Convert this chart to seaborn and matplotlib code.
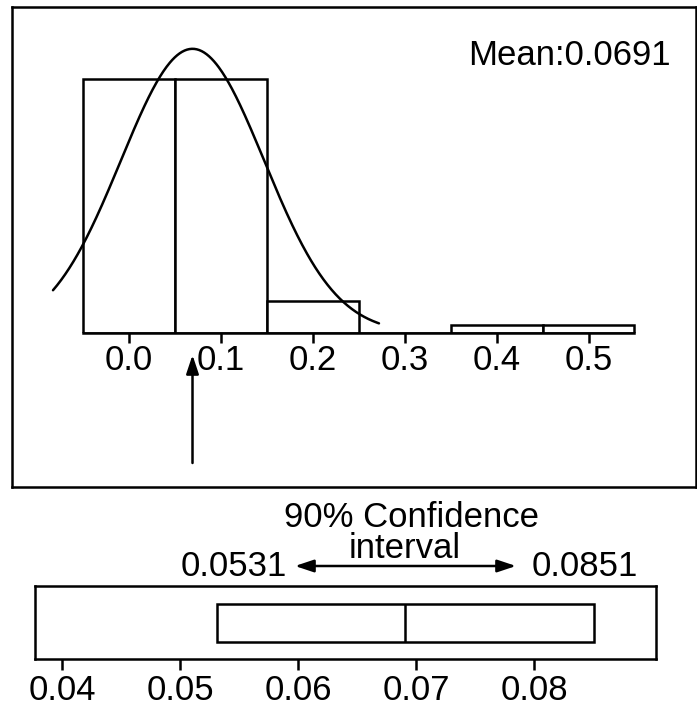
import numpy as np
import pandas as pd
import matplotlib
matplotlib.use("Agg")
import matplotlib.pyplot as plt
from matplotlib.patches import FancyArrowPatch
import seaborn as sns

# Histogram of the estimates
bin_edges = [-0.05, 0.05, 0.15, 0.25, 0.35, 0.45, 0.55]
bin_counts = [32, 32, 4, 0, 1, 1]
hist_ticks = [0.0, 0.1, 0.2, 0.3, 0.4, 0.5]
hist_tick_labels = ["0.0", "0.1", "0.2", "0.3", "0.4", "0.5"]

# Fitted normal curve
fit_mean = 0.0691
fit_sd = 0.078
curve_range = (-0.0827, 0.272)

# 90% confidence interval of the mean
ci_low = 0.0531
ci_high = 0.0851
ci_ticks = [0.04, 0.05, 0.06, 0.07, 0.08]
ci_tick_labels = ["0.04", "0.05", "0.06", "0.07", "0.08"]

sns.set_theme(style="white")
plt.rcParams["font.family"] = ["Liberation Sans", "DejaVu Sans"]
FS = 25
LW = 1.8

W, H = 697, 709
fig = plt.figure(figsize=(W / 100, H / 100), dpi=100)
fig.patch.set_facecolor("white")


def px_axes(l, t, r, b):
    return fig.add_axes([l / W, 1 - b / H, (r - l) / W, (b - t) / H])


# ---- upper panel: histogram with normal fit ----
x_per_px = 0.1 / 91.9
cnt_per_px = 32 / 254.0
x0_px, y0_px = 129, 333
xlim_top = ((12 - x0_px) * x_per_px, (696 - x0_px) * x_per_px)

ax_frame = px_axes(12, 7, 696, 487)
ax_frame.set_xlim(*xlim_top)
ax_frame.set_ylim(-(487 - y0_px) * cnt_per_px, (y0_px - 7) * cnt_per_px)
ax_frame.set_xticks([])
ax_frame.set_yticks([])
ax_frame.set_facecolor("white")
for s in ax_frame.spines.values():
    s.set_visible(True)
    s.set_color("black")
    s.set_linewidth(LW)

ax_hist = px_axes(12, 7, 696, y0_px)
ax_hist.set_facecolor("none")
edges = np.array(bin_edges)
centers = (edges[:-1] + edges[1:]) / 2
df = pd.DataFrame({"value": centers, "count": bin_counts})
sns.histplot(data=df, x="value", weights="count", bins=bin_edges,
             color="white", edgecolor="black", linewidth=LW, alpha=1,
             ax=ax_hist)

n_total = sum(bin_counts)
bin_w = bin_edges[1] - bin_edges[0]
xs = np.linspace(curve_range[0], curve_range[1], 400)
ys = n_total * bin_w / (fit_sd * np.sqrt(2 * np.pi)) * np.exp(-0.5 * ((xs - fit_mean) / fit_sd) ** 2)
sns.lineplot(x=xs, y=ys, color="black", linewidth=LW, ax=ax_hist)

ax_hist.set_xlim(*xlim_top)
ax_hist.set_ylim(0, (y0_px - 7) * cnt_per_px)
for side in ["left", "right", "top"]:
    ax_hist.spines[side].set_visible(False)
ax_hist.spines["bottom"].set_visible(True)
ax_hist.spines["bottom"].set_color("black")
ax_hist.spines["bottom"].set_linewidth(LW)
ax_hist.spines["bottom"].set_bounds(bin_edges[0], bin_edges[-1])
ax_hist.set_xticks(hist_ticks)
ax_hist.set_xticklabels(hist_tick_labels)
ax_hist.set_yticks([])
ax_hist.tick_params(axis="x", bottom=True, direction="out", length=7.2,
                    width=LW, color="black", pad=1.0, labelsize=FS,
                    labelcolor="black")
ax_hist.set_xlabel("")
ax_hist.set_ylabel("")

# arrow marking the mean
ax_frame.add_patch(FancyArrowPatch(
    (fit_mean, -(463 - y0_px) * cnt_per_px), (fit_mean, -(355 - y0_px) * cnt_per_px),
    arrowstyle="-|>,head_length=0.75,head_width=0.25", mutation_scale=15,
    color="black", linewidth=LW, shrinkA=0, shrinkB=0))
ax_frame.text((671 - x0_px) * x_per_px, (y0_px - 65) * cnt_per_px,
              f"Mean:{fit_mean:.4f}", ha="right", va="baseline",
              fontsize=FS, color="black")

# ---- lower panel: confidence interval box ----
ci_per_px = 0.01 / 118.0
ci0_px = 62
ax_ci = px_axes(35, 586, 656, 659)
stats = [dict(med=fit_mean, q1=ci_low, q3=ci_high, whislo=ci_low,
              whishi=ci_high, fliers=[])]
ax_ci.bxp(stats, positions=[0], widths=1, vert=False, showcaps=False,
          showfliers=False, patch_artist=True,
          boxprops=dict(facecolor="white", edgecolor="black", linewidth=LW),
          medianprops=dict(color="black", linewidth=LW),
          whiskerprops=dict(color="black", linewidth=LW))
ax_ci.set_xlim(0.04 - (ci0_px - 35) * ci_per_px, 0.04 + (656 - ci0_px) * ci_per_px)
ax_ci.set_ylim(-(659 - 623) / 38.0, (623 - 586) / 38.0)
ax_ci.set_facecolor("white")
for s in ax_ci.spines.values():
    s.set_visible(True)
    s.set_color("black")
    s.set_linewidth(LW)
ax_ci.set_yticks([])
ax_ci.set_xticks(ci_ticks)
ax_ci.set_xticklabels(ci_tick_labels)
ax_ci.tick_params(axis="x", bottom=True, direction="out", length=8,
                  width=LW, color="black", pad=2.5, labelsize=FS,
                  labelcolor="black")


# interval annotation above the box
def fx(px):
    return px / W


def fy(py):
    return 1 - py / H


fig.text(fx(412), fy(527), "90% Confidence", ha="center", va="baseline",
         fontsize=FS, color="black")
fig.text(fx(405), fy(558), "interval", ha="center", va="baseline",
         fontsize=FS, color="black")
fig.text(fx(287), fy(576), f"{ci_low:.4f}", ha="right", va="baseline",
         fontsize=FS, color="black")
fig.text(fx(532), fy(576), f"{ci_high:.4f}", ha="left", va="baseline",
         fontsize=FS, color="black")
fig.add_artist(FancyArrowPatch(
    (fx(295), fy(566)), (fx(516), fy(566)), transform=fig.transFigure,
    arrowstyle="<|-|>,head_length=0.75,head_width=0.25", mutation_scale=15,
    color="black", linewidth=LW, shrinkA=0, shrinkB=0))

fig.savefig("out.png", dpi=100, facecolor="white")
